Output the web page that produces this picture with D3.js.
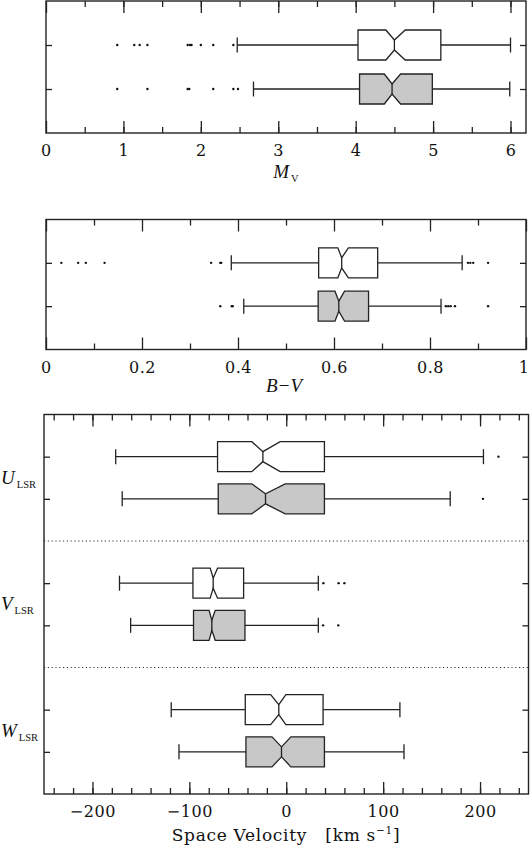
<!DOCTYPE html>
<meta charset="utf-8">
<head>
	<title>Notched box plots</title>
</head>

<style>
body{
	margin: 0;
	background: #fff;
}
svg{
	display: block;
}
.tick text{
	font-family: "DejaVu Serif", serif;
	font-size: 16px;
	letter-spacing: 0.6px;
	fill: #111;
}
.tick line{
	stroke: #222;
	stroke-width: 1.3;
}
.lab{
	font-family: "Liberation Serif", serif;
	font-style: italic;
	font-size: 19px;
	fill: #111;
}
.sub{
	font-style: normal;
	font-size: 10.5px;
}
.title{
	font-family: "DejaVu Serif", serif;
	font-size: 17px;
	letter-spacing: 0.7px;
	fill: #111;
	white-space: pre;
}
.box{
	stroke: #222;
	stroke-width: 1.3;
}
.whisker{
	stroke: #222;
	stroke-width: 1.3;
}
.frame{
	fill: none;
	stroke: #222;
	stroke-width: 1.4;
}
.sep{
	stroke: #333;
	stroke-width: 1.2;
	stroke-dasharray: 1.2,2.6;
}
</style>

<body>
<svg width="530" height="846"></svg>

<script src="https://cdnjs.cloudflare.com/ajax/libs/d3/7.8.5/d3.min.js"></script>
<script>

// every box array: whisker low, q1, notch low, median, notch high, q3, whisker high

// M_V
var mvOpen = [2.47, 4.03, 4.39, 4.50, 4.64, 5.10, 6.00];
var mvFilled = [2.68, 4.05, 4.37, 4.47, 4.58, 4.99, 5.99];
var mvOpenOut = [0.92, 1.14, 1.21, 1.31, 1.83, 1.86, 1.88, 2.00, 2.16, 2.42];
var mvFilledOut = [0.92, 1.31, 1.83, 1.85, 2.16, 2.42, 2.48];
var mvTicks = [0, 1, 2, 3, 4, 5, 6];

// B-V
var bvOpen = [0.386, 0.568, 0.608, 0.616, 0.630, 0.691, 0.867];
var bvFilled = [0.412, 0.567, 0.602, 0.610, 0.622, 0.672, 0.823];
var bvOpenOut = [0.032, 0.067, 0.083, 0.122, 0.344, 0.363, 0.365, 0.879, 0.884, 0.890, 0.921];
var bvFilledOut = [0.363, 0.387, 0.389, 0.833, 0.838, 0.843, 0.852, 0.921];
var bvTicks = [0, 0.2, 0.4, 0.6, 0.8, 1];

// space velocities, km/s
var uOpen = [-176, -70.9, -35.6, -24.1, -6.3, 39.4, 203.5];
var uFilled = [-169.3, -70.2, -35.6, -21.4, -1.1, 39.4, 169.2];
var uOpenOut = [219];
var uFilledOut = [203];
var vOpen = [-172.1, -96.3, -78.5, -75.4, -70.9, -44.0, 33.1];
var vFilled = [-160.6, -95.7, -79.6, -76.8, -73.3, -42.6, 33.1];
var vOpenOut = [38.3, 54, 60];
var vFilledOut = [38, 53.7];
var wOpen = [-118.7, -42.3, -16.1, -7.7, -0.4, 38.0, 117.3];
var wFilled = [-110.7, -41.6, -14.7, -4.9, 4.8, 39.4, 121.5];
var wOpenOut = [];
var wFilledOut = [];
var velTicks = [-200, -100, 0, 100, 200];
var velComponents = ['U', 'V', 'W'];

var openFill = '#ffffff';
var grayFill = '#c8c8c8';

var svg = d3.select('svg');
var svgW = +svg.attr('width');

var panels = [
	{
		left: 46, right: 526, top: 1, bottom: 133,
		domain: [0, 6.2], slots: 3,
		major: mvTicks, minor: d3.range(0.5, 6.2, 0.5),
		boxes: [
			{slot: 1, stats: mvOpen, out: mvOpenOut, fill: openFill},
			{slot: 2, stats: mvFilled, out: mvFilledOut, fill: grayFill}
		],
		seps: []
	},
	{
		left: 46, right: 526, top: 219.5, bottom: 349.5,
		domain: [0, 1], slots: 3,
		major: bvTicks, minor: d3.range(0.1, 1, 0.2),
		boxes: [
			{slot: 1, stats: bvOpen, out: bvOpenOut, fill: openFill},
			{slot: 2, stats: bvFilled, out: bvFilledOut, fill: grayFill}
		],
		seps: []
	},
	{
		left: 44, right: 528.5, top: 414.5, bottom: 794,
		domain: [-250, 250], slots: 9,
		major: velTicks, minor: d3.range(-240, 250, 20),
		boxes: [
			{slot: 1, stats: uOpen, out: uOpenOut, fill: openFill},
			{slot: 2, stats: uFilled, out: uFilledOut, fill: grayFill},
			{slot: 4, stats: vOpen, out: vOpenOut, fill: openFill},
			{slot: 5, stats: vFilled, out: vFilledOut, fill: grayFill},
			{slot: 7, stats: wOpen, out: wOpenOut, fill: openFill},
			{slot: 8, stats: wFilled, out: wFilledOut, fill: grayFill}
		],
		seps: [3, 6]
	}
];

var halfH = 15;   // half height of a box
var inset = 10;   // notch depth
var capH = 7.5;   // whisker cap half height

function drawPanel(p){
	var x = d3.scaleLinear().domain(p.domain).range([p.left, p.right]);
	var y = d3.scaleLinear().domain([0, p.slots]).range([p.top, p.bottom]);
	var g = svg.append('g');

	// separators
	g.selectAll('.sep')
		.data(p.seps)
		.enter()
		.append('line')
		.attr('class', 'sep')
		.attr('x1', p.left).attr('x2', p.right)
		.attr('y1', function(d){ return y(d); })
		.attr('y2', function(d){ return y(d); });

	// boxes
	var b = g.selectAll('.bx')
		.data(p.boxes)
		.enter()
		.append('g')
		.attr('class', 'bx');

	b.each(function(d){
		var s = d.stats;
		var yc = y(d.slot);
		var el = d3.select(this);
		var wl = x(s[0]), q1 = x(s[1]), nl = x(s[2]), md = x(s[3]),
			nh = x(s[4]), q3 = x(s[5]), wh = x(s[6]);

		el.append('line').attr('class', 'whisker')
			.attr('x1', wl).attr('x2', q1).attr('y1', yc).attr('y2', yc);
		el.append('line').attr('class', 'whisker')
			.attr('x1', q3).attr('x2', wh).attr('y1', yc).attr('y2', yc);
		el.append('line').attr('class', 'whisker')
			.attr('x1', wl).attr('x2', wl).attr('y1', yc - capH).attr('y2', yc + capH);
		el.append('line').attr('class', 'whisker')
			.attr('x1', wh).attr('x2', wh).attr('y1', yc - capH).attr('y2', yc + capH);

		var path = d3.path();
		path.moveTo(q1, yc - halfH);
		path.lineTo(nl, yc - halfH);
		path.lineTo(md, yc - halfH + inset);
		path.lineTo(nh, yc - halfH);
		path.lineTo(q3, yc - halfH);
		path.lineTo(q3, yc + halfH);
		path.lineTo(nh, yc + halfH);
		path.lineTo(md, yc + halfH - inset);
		path.lineTo(nl, yc + halfH);
		path.lineTo(q1, yc + halfH);
		path.closePath();
		el.append('path').attr('class', 'box')
			.attr('d', path.toString())
			.attr('fill', d.fill);
		el.append('line').attr('class', 'whisker')
			.attr('x1', md).attr('x2', md)
			.attr('y1', yc - halfH + inset).attr('y2', yc + halfH - inset);

		el.selectAll('circle')
			.data(d.out)
			.enter()
			.append('circle')
			.attr('cx', function(v){ return x(v); })
			.attr('cy', yc)
			.attr('r', 1.2)
			.attr('fill', '#111');
	});

	// axes
	var rowSlots = p.boxes.map(function(d){ return d.slot; });
	var fmt = d3.format('');

	var bottomMajor = g.append('g')
		.attr('transform', 'translate(0,' + p.bottom + ')')
		.call(d3.axisBottom(x).tickValues(p.major).tickSize(-12).tickFormat(function(d){ return fmt(d); }));
	bottomMajor.selectAll('text').attr('y', 23).attr('dy', null);
	// keep the last label inside the page
	bottomMajor.selectAll('text').each(function(d){
		var w = this.getComputedTextLength();
		var over = x(d) + w / 2 - (svgW - 1);
		if(over > 0)
			d3.select(this).attr('x', -over);
	});
	g.append('g')
		.attr('transform', 'translate(0,' + p.bottom + ')')
		.call(d3.axisBottom(x).tickValues(p.minor).tickSize(-6).tickFormat(''));
	g.append('g')
		.attr('transform', 'translate(0,' + p.top + ')')
		.call(d3.axisTop(x).tickValues(p.major).tickSize(-12).tickFormat(''));
	g.append('g')
		.attr('transform', 'translate(0,' + p.top + ')')
		.call(d3.axisTop(x).tickValues(p.minor).tickSize(-6).tickFormat(''));
	g.append('g')
		.attr('transform', 'translate(' + p.left + ',0)')
		.call(d3.axisLeft(y).tickValues(rowSlots).tickSize(-6).tickFormat(''));
	g.append('g')
		.attr('transform', 'translate(' + p.right + ',0)')
		.call(d3.axisRight(y).tickValues(rowSlots).tickSize(-6).tickFormat(''));
	g.selectAll('.domain').remove();

	g.append('rect')
		.attr('class', 'frame')
		.attr('x', p.left).attr('y', p.top)
		.attr('width', p.right - p.left)
		.attr('height', p.bottom - p.top);

	return {x: x, y: y};
}

var sc = panels.map(drawPanel);

// axis titles
var mv = svg.append('text').attr('class', 'lab')
	.attr('x', 286).attr('y', 178).attr('text-anchor', 'middle');
mv.append('tspan').text('M');
mv.append('tspan').attr('class', 'sub').attr('dy', 4).attr('dx', 2).text('V');

svg.append('text').attr('class', 'lab')
	.attr('x', 284).attr('y', 392).attr('text-anchor', 'middle')
	.text('B\u2212V');

var vt = svg.append('text').attr('class', 'title')
	.attr('x', 286).attr('y', 841).attr('text-anchor', 'middle');
vt.append('tspan').text('Space Velocity   [km s');
vt.append('tspan').attr('font-size', 10.5).attr('dy', -7).text('\u22121');
vt.append('tspan').attr('dy', 7).text(']');

// component labels on the velocity panel
var yv = sc[2].y;
var comp = svg.selectAll('.comp')
	.data(velComponents)
	.enter()
	.append('text')
	.attr('class', 'lab comp')
	.attr('x', 1)
	.attr('y', function(d, i){ return yv(i * 3 + 1.5) + 6; });
comp.append('tspan').text(function(d){ return d; });
comp.append('tspan').attr('class', 'sub').attr('dy', 4).attr('dx', 2).text('LSR');

</script>
</body>
</html>
